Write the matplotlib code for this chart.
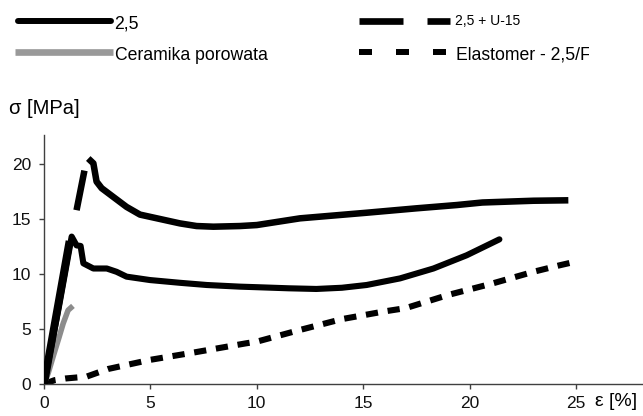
import matplotlib
matplotlib.use("Agg")
import matplotlib.pyplot as plt
from matplotlib.lines import Line2D
from matplotlib.transforms import Bbox, TransformedBbox

plt.rcParams['font.family'] = ['Liberation Sans', 'DejaVu Sans']

# ---- data ----
x_25 = [0, 0.3, 0.7, 1.0, 1.3, 1.53, 1.72, 1.85, 2.32, 2.95, 3.41, 3.88, 4.98, 6.39, 7.65, 9.21, 10.0, 11.5, 12.8, 14.0, 15.16, 16.73, 18.3, 19.86, 21.4]
y_25 = [0, 3.0, 7.0, 10.2, 13.4, 12.6, 12.55, 10.97, 10.5, 10.5, 10.2, 9.76, 9.45, 9.2, 9.0, 8.85, 8.8, 8.7, 8.64, 8.75, 9.0, 9.6, 10.5, 11.7, 13.15]

x_u15 = [0, 0.6, 1.2, 1.53, 1.9, 2.08, 2.32, 2.47, 2.71, 3.26, 3.88, 4.51, 5.45, 6.39, 7.17, 7.96, 9.21, 10.0, 12.03, 15.16, 17.5, 19.4, 20.6, 23.0, 24.64]
y_u15 = [0, 6.5, 13.0, 15.8, 19.4, 20.5, 20.06, 18.4, 17.8, 17.0, 16.1, 15.4, 15.0, 14.6, 14.36, 14.3, 14.36, 14.45, 15.06, 15.57, 15.97, 16.27, 16.5, 16.66, 16.7]

x_cer = [0, 0.2, 0.43, 0.7, 0.9, 1.13, 1.36]
y_cer = [0, 1.0, 2.5, 4.2, 5.5, 6.7, 7.1]

x_ela = [0, 0.5, 1.0, 2.0, 3.0, 5.0, 7.0, 9.5, 10.0, 12.0, 14.0, 16.0, 17.0, 19.0, 21.0, 23.0, 24.25, 24.7]
y_ela = [0, 0.35, 0.5, 0.67, 1.36, 2.2, 2.85, 3.7, 3.85, 4.9, 5.9, 6.6, 6.9, 8.1, 9.1, 10.2, 10.8, 11.0]

labels = ["2,5", "Ceramika porowata", "2,5 + U-15", "Elastomer - 2,5/F"]
x_ticks = [0, 5, 10, 15, 20, 25]
y_ticks = [0, 5, 10, 15, 20]

W, H = 643, 416
fig = plt.figure(figsize=(W / 100, H / 100), dpi=100)
ax = fig.add_axes([44 / W, 32 / H, (W - 44) / W, (384 - 135) / H])
ax.set_xlim(0, (W - 44) / 21.28)
ax.set_ylim(0, 249 / 11.0)

axis_col = '#404040'
for s in ['top', 'right']:
    ax.spines[s].set_visible(False)
for s in ['left', 'bottom']:
    ax.spines[s].set_color(axis_col)
    ax.spines[s].set_linewidth(1.0)
ax.set_xticks(x_ticks)
ax.set_yticks(y_ticks)
ax.tick_params(direction='out', length=3.6, width=1.0, color=axis_col,
               labelsize=12.5, labelcolor='#111111')
ax.tick_params(axis='x', pad=5)
ax.tick_params(axis='y', pad=5.5)

LW = 4.4
# curves
ax.plot(x_ela, y_ela, color='black', lw=LW, linestyle=(0, (2.0, 1.6)),
        solid_capstyle='butt', dash_capstyle='butt', zorder=2)
ax.plot(x_cer, y_cer, color='#8c8c8c', lw=4.0, solid_capstyle='butt', zorder=3)
ax.plot(x_25, y_25, color='black', lw=LW, solid_capstyle='round',
        solid_joinstyle='round', zorder=4)
# 2,5 + U-15 (long dashes rendered piecewise as in the source)
ax.plot(x_u15[0:3], y_u15[0:3], color='black', lw=LW + 1.2, solid_capstyle='butt', zorder=3)
ax.plot(x_u15[3:5], y_u15[3:5], color='black', lw=LW + 0.3, solid_capstyle='butt', zorder=3)
ax.plot(x_u15[5:], y_u15[5:], color='black', lw=LW + 0.3, solid_capstyle='butt',
        solid_joinstyle='round', zorder=3)

# axis titles
fig.text(9 / W, 1 - 109 / H, "σ [MPa]", fontsize=14.5, va='center', ha='left')
fig.text(595 / W, 1 - 402 / H, "ε [%]", fontsize=14, va='center', ha='left')

# legend (manual)
def px(x, y):
    return x / W, 1 - y / H

def leg_line(x0, x1, y, **kw):
    (a, b), (c, _) = px(x0, y), px(x1, y)
    fig.add_artist(Line2D([a, c], [b, b], transform=fig.transFigure, **kw))

LFS = 12.7
leg_line(18, 111, 21, color='black', lw=4.3, solid_capstyle='round')
fig.text(*px(114, 24), labels[0], fontsize=LFS, va='center', ha='left')
leg_line(15, 113, 52, color='#999999', lw=4.8, solid_capstyle='butt')
fig.text(*px(115, 55), labels[1], fontsize=LFS, va='center', ha='left')

leg_line(359, 403, 21, color='black', lw=4.8, solid_capstyle='butt')
leg_line(427, 450, 21, color='black', lw=4.8, solid_capstyle='butt')
fig.text(*px(455, 21), labels[2], fontsize=10, va='center', ha='left')
for a0 in (359, 396, 433):
    leg_line(a0, a0 + 13, 52, color='black', lw=4.3, solid_capstyle='butt')
t = fig.text(*px(456, 55), labels[3], fontsize=LFS, va='center', ha='left')
clip = TransformedBbox(Bbox([[0, 0], [589 / W, 1]]), fig.transFigure)
t.set_clip_box(clip)
t.set_clip_on(True)

fig.savefig("out.png", dpi=100)
